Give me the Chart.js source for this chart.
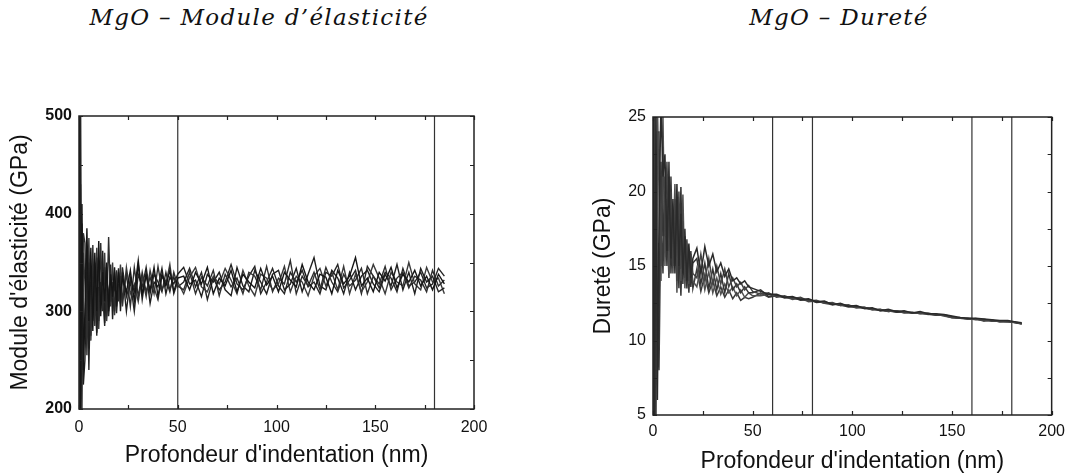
<!DOCTYPE html>
<html lang="fr">
<head>
<meta charset="utf-8">
<title>MgO – nanoindentation</title>
<script src="https://cdn.jsdelivr.net/npm/chart.js@4.4.1/dist/chart.umd.min.js"></script>
<style>
  html, body { margin: 0; padding: 0; background: #fff; }
  body { width: 1072px; height: 475px; position: relative; overflow: hidden; }
  .titre {
    position: absolute; top: 5px; line-height: 24px;
    font-family: 'DejaVu Serif', serif; font-style: italic; font-size: 23px;
    letter-spacing: 1.3px;
    color: #111; white-space: nowrap; transform: translateX(-50%);
  }
  .bloc { position: absolute; top: 60px; height: 415px; }
</style>
</head>
<body>
<div class="titre" style="left:259px">MgO – Module d’élasticité</div>
<div class="titre" style="left:839px">MgO – Dureté</div>
<div class="bloc" style="left:0;width:536px"><canvas id="chartModule"></canvas></div>
<div class="bloc" style="left:580px;width:492px"><canvas id="chartDurete"></canvas></div>

<script>
// Module d'élasticité : profondeur (nm) et 5 essais (GPa)
const profondeurE = [0.2, 0.8, 1.5, 2.2,
  3, 4, 5, 6, 7, 8, 9, 10, 11, 12, 13, 14, 15, 16, 17, 18, 19, 20, 21, 22,
  24, 26, 28, 30, 32, 34, 36, 38, 40, 42, 44, 46, 48, 50,
  53, 56, 59, 62, 65, 68, 71, 74, 77, 80, 83, 86, 89, 92, 95, 98, 101, 104, 107, 110,
  113, 116, 119, 122, 125, 128, 131, 134, 137, 140, 143, 146, 149, 152, 155, 158, 161,
  164, 167, 170, 173, 176, 179, 182, 185];

const moduleE1 = [560, 180, 410, 240,
  300, 385, 290, 365, 280, 360, 300, 372, 295, 340, 310, 350, 300, 338, 315, 345, 305, 340, 318, 335,
  320, 342, 310, 348, 318, 336, 322, 345, 315, 338, 326, 342, 320, 334,
  336, 322, 340, 328, 345, 318, 334, 326, 342, 320, 338, 330, 324, 344, 327, 336, 320, 340, 332, 325,
  348, 330, 322, 338, 335, 318, 342, 328, 336, 355, 326, 334, 320, 340, 331, 345, 324, 338, 330, 342,
  326, 336, 322, 338, 328];
const moduleE2 = [150, 520, 200, 380,
  370, 255, 350, 275, 368, 285, 355, 290, 370, 300, 345, 295, 376, 310, 330, 300, 342, 310, 336, 312,
  338, 305, 345, 315, 340, 320, 335, 318, 346, 322, 332, 320, 340, 326,
  322, 340, 318, 335, 326, 342, 316, 338, 325, 334, 318, 340, 336, 322, 346, 320, 334, 328, 352, 318,
  336, 326, 340, 322, 345, 330, 320, 338, 326, 332, 344, 318, 336, 328, 346, 322, 334, 340, 324, 336,
  332, 320, 342, 326, 332];
const moduleE3 = [540, 190, 330, 225,
  250, 340, 262, 330, 290, 350, 278, 325, 300, 362, 288, 335, 305, 348, 292, 330, 312, 344, 300, 340,
  300, 335, 320, 352, 312, 340, 308, 330, 325, 344, 318, 335, 328, 338,
  345, 328, 332, 315, 338, 330, 340, 322, 316, 345, 326, 320, 342, 330, 318, 338, 342, 322, 328, 344,
  320, 338, 355, 326, 322, 342, 334, 318, 340, 322, 336, 342, 328, 320, 338, 326, 348, 322, 340, 318,
  344, 330, 336, 320, 324];
const moduleE4 = [170, 430, 250, 360,
  330, 280, 375, 270, 340, 295, 365, 282, 330, 305, 360, 290, 320, 305, 350, 296, 330, 318, 348, 305,
  345, 318, 328, 310, 335, 315, 342, 324, 312, 336, 328, 348, 318, 330,
  318, 335, 345, 325, 320, 336, 328, 344, 332, 318, 342, 326, 316, 338, 334, 322, 328, 346, 320, 336,
  330, 316, 336, 344, 326, 340, 322, 346, 318, 338, 320, 330, 348, 334, 318, 340, 330, 326, 350, 328,
  322, 345, 330, 334, 318];
const moduleE5 = [480, 210, 390, 260,
  285, 360, 240, 345, 300, 330, 275, 350, 310, 320, 285, 345, 295, 325, 310, 340, 298, 328, 308, 345,
  315, 330, 300, 338, 325, 345, 318, 338, 330, 320, 340, 322, 335, 325,
  330, 344, 325, 340, 312, 334, 322, 330, 348, 328, 322, 336, 346, 318, 330, 344, 326, 318, 340, 330,
  342, 325, 330, 318, 340, 336, 348, 324, 332, 342, 318, 346, 336, 324, 340, 334, 320, 344, 326, 330,
  340, 324, 328, 344, 336];
const reperesE = [50, 180];

// Dureté : profondeur (nm) et 5 essais (GPa)
const profondeurH = [0.2, 0.8, 1.5, 2.2,
  3, 4, 5, 6, 7, 8, 9, 10, 11, 12, 13, 14, 15, 16, 17, 18, 19, 20,
  22, 24, 26, 28, 30, 32, 34, 36, 38, 40, 42, 44, 46, 48, 50,
  54, 58, 62, 66, 70, 74, 78, 82, 86, 90, 94, 98, 102, 106, 110, 114, 118, 122, 126, 130,
  134, 138, 142, 146, 150, 154, 158, 162, 166, 170, 174, 178, 182, 185];

const dureteH1 = [30, 3, 26, 6,
  18, 26, 21, 22.5, 16, 21, 15.5, 19.5, 14.5, 20.5, 15, 18.5, 14.5, 17, 14, 16.5, 14.2, 15.5,
  16.2, 14.5, 16.3, 15, 15.8, 14.6, 15.2, 14.3, 14.8, 14, 14.2, 13.8, 14, 13.6, 13.5,
  13.3, 13.1, 13.1, 12.9, 12.95, 12.75, 12.8, 12.6, 12.65, 12.4, 12.5, 12.3, 12.35, 12.15, 12.2, 12.0,
  12.1, 11.95, 12.0, 11.85, 11.95, 11.8, 11.8, 11.75, 11.65, 11.55, 11.5, 11.5, 11.45, 11.4, 11.35,
  11.35, 11.25, 11.2];
const dureteH2 = [2, 28, 4, 24,
  24, 15, 23, 17, 22, 16, 20, 14.5, 19.5, 14, 20, 14.8, 18, 14.2, 16.8, 14, 15.8, 14.5,
  14.2, 15.8, 14, 15.5, 13.8, 15, 13.8, 14.8, 13.6, 14.2, 13.6, 13.9, 13.4, 13.7, 13.3,
  13.1, 13.2, 12.9, 13.0, 12.8, 12.9, 12.65, 12.7, 12.5, 12.55, 12.35, 12.4, 12.2, 12.25, 12.05, 12.1,
  11.95, 12.0, 11.85, 11.9, 11.8, 11.85, 11.72, 11.68, 11.55, 11.5, 11.45, 11.42, 11.38, 11.3, 11.3,
  11.25, 11.2, 11.1];
const dureteH3 = [27, 2, 22, 8,
  12, 22, 17, 20, 15, 22, 14.5, 18, 15, 19, 13.5, 20.3, 13.8, 17.5, 13.5, 16, 13.6, 15.2,
  15.5, 13.8, 15.2, 13.5, 14.8, 13.4, 14.5, 13.2, 14.5, 13.4, 13.8, 13.2, 13.6, 13.2, 13.2,
  13.4, 12.95, 13.05, 12.85, 12.9, 12.7, 12.75, 12.55, 12.6, 12.45, 12.4, 12.25, 12.3, 12.2, 12.1, 12.05,
  12.0, 11.9, 11.92, 11.88, 11.82, 11.78, 11.7, 11.72, 11.6, 11.5, 11.48, 11.4, 11.42, 11.32, 11.28,
  11.3, 11.18, 11.12];
const dureteH4 = [4, 30, 7, 26,
  20, 14, 25, 15, 19.5, 14.5, 18.5, 16, 20.5, 13.2, 18.5, 14, 19.8, 13.5, 16.5, 13.8, 15, 14,
  13.6, 15, 13.4, 14.6, 13.2, 14.2, 13.1, 13.8, 13.2, 13.6, 13, 13.4, 12.9, 13.2, 13.0,
  13.0, 13.1, 12.95, 12.95, 12.75, 12.85, 12.6, 12.65, 12.5, 12.4, 12.45, 12.3, 12.2, 12.2, 12.15, 12.0,
  11.98, 11.95, 11.88, 11.85, 11.88, 11.75, 11.76, 11.65, 11.52, 11.55, 11.42, 11.48, 11.3, 11.38, 11.25,
  11.28, 11.25, 11.15];
const dureteH5 = [29, 3, 20, 10,
  8, 19, 14.5, 21, 18, 14.2, 21, 15, 17.5, 16, 17, 13, 17.5, 15, 15.5, 13.2, 16, 13.5,
  14.8, 13.3, 14.4, 13.2, 14, 13, 13.6, 12.9, 13.4, 12.8, 13.2, 12.7, 12.9, 12.8, 12.9,
  13.2, 12.9, 13.0, 12.9, 12.85, 12.75, 12.7, 12.6, 12.55, 12.5, 12.35, 12.35, 12.28, 12.15, 12.1, 12.08,
  11.95, 12.0, 11.9, 11.86, 11.85, 11.8, 11.72, 11.7, 11.55, 11.5, 11.5, 11.45, 11.35, 11.35, 11.3,
  11.25, 11.22, 11.12];
const reperesH = [60, 80, 160, 180];

const policeSans = "'Liberation Sans', Arial, sans-serif";

// Cadre autour de la zone de tracé + graduations vers l'intérieur
const cadreGraduations = {
  id: 'cadreGraduations',
  afterDatasetsDraw(chart) {
    const { ctx, chartArea: a, scales } = chart;
    ctx.save();
    ctx.strokeStyle = '#222';
    ctx.lineWidth = 1.5;
    ctx.strokeRect(a.left, a.top, a.right - a.left, a.bottom - a.top);
    ctx.lineWidth = 1.2;
    ctx.beginPath();
    scales.x.ticks.forEach(t => {
      const px = Math.round(scales.x.getPixelForValue(t.value)) + 0.5;
      ctx.moveTo(px, a.bottom); ctx.lineTo(px, a.bottom - 4);
      ctx.moveTo(px, a.top); ctx.lineTo(px, a.top + 4);
    });
    scales.y.ticks.forEach(t => {
      const py = Math.round(scales.y.getPixelForValue(t.value)) + 0.5;
      ctx.moveTo(a.left, py); ctx.lineTo(a.left + 4, py);
      ctx.moveTo(a.right, py); ctx.lineTo(a.right - 4, py);
    });
    ctx.stroke();
    ctx.restore();
  }
};

function points(profondeur, valeurs) {
  return profondeur.map((d, i) => ({ x: d, y: valeurs[i] }));
}

function creerGraphique(id, cfg) {
  const datasets = cfg.series.map((valeurs, i) => ({
    data: points(cfg.profondeur, valeurs),
    borderColor: cfg.couleurs[i % cfg.couleurs.length],
    borderWidth: cfg.epaisseur,
    pointRadius: 0,
    showLine: true,
    tension: 0
  }));

  // traits verticaux de repère
  cfg.reperes.forEach(x => {
    datasets.push({
      data: [{ x: x, y: cfg.yMin }, { x: x, y: cfg.yMax }],
      borderColor: '#333',
      borderWidth: 1.2,
      pointRadius: 0,
      showLine: true
    });
  });

  new Chart(document.getElementById(id), {
    type: 'scatter',
    data: { datasets },
    plugins: [cadreGraduations],
    options: {
      responsive: true,
      maintainAspectRatio: false,
      animation: false,
      events: [],
      layout: { padding: cfg.padding },
      plugins: { legend: { display: false }, tooltip: { enabled: false } },
      scales: {
        x: {
          type: 'linear',
          min: 0,
          max: 200,
          grid: { display: false, drawTicks: false },
          border: { display: false },
          afterFit: s => { s.height = cfg.hauteurX; },
          ticks: {
            stepSize: 25,
            autoSkip: false,
            maxRotation: 0,
            padding: cfg.padX,
            color: '#111',
            font: { family: policeSans, size: 16 },
            callback: v => (v % 50 === 0 ? v : '')
          },
          title: {
            display: true,
            text: "Profondeur d'indentation (nm)",
            color: '#111',
            font: { family: policeSans, size: 23 },
            padding: cfg.padTitreX
          }
        },
        y: {
          type: 'linear',
          min: cfg.yMin,
          max: cfg.yMax,
          grid: { display: false, drawTicks: false },
          border: { display: false },
          afterFit: s => { s.width = cfg.largeurY; },
          ticks: {
            stepSize: cfg.yPas,
            autoSkip: false,
            padding: 7,
            color: '#111',
            font: { family: policeSans, size: 16, weight: cfg.graisseY },
            callback: v => (v % cfg.yEtiquette === 0 ? v : '')
          },
          title: {
            display: true,
            text: cfg.titreY,
            color: '#111',
            font: { family: policeSans, size: 23 },
            padding: cfg.padTitreY
          }
        }
      }
    }
  });
}

creerGraphique('chartModule', {
  profondeur: profondeurE,
  series: [moduleE1, moduleE2, moduleE3, moduleE4, moduleE5],
  couleurs: ['#151515', '#2e2e2e', '#1f1f1f', '#3a3a3a', '#262626'],
  epaisseur: 1.4,
  reperes: reperesE,
  yMin: 200, yMax: 500, yPas: 50, yEtiquette: 100,
  titreY: "Module d'élasticité (GPa)",
  graisseY: 'bold',
  padding: { top: 56, right: 62, left: 0, bottom: 0 },
  largeurY: 79, hauteurX: 66, padX: 9,
  padTitreX: { top: 0, bottom: 6 },
  padTitreY: { top: 7, bottom: 0 }
});

creerGraphique('chartDurete', {
  profondeur: profondeurH,
  series: [dureteH1, dureteH2, dureteH3, dureteH4, dureteH5],
  couleurs: ['#2a2a2a', '#444', '#333', '#505050', '#3a3a3a'],
  epaisseur: 1.5,
  reperes: reperesH,
  yMin: 5, yMax: 25, yPas: 2.5, yEtiquette: 5,
  titreY: 'Dureté (GPa)',
  graisseY: 'normal',
  padding: { top: 57, right: 19, left: 0, bottom: 0 },
  largeurY: 73, hauteurX: 60, padX: 7,
  padTitreX: { top: 0, bottom: 0 },
  padTitreY: { top: 10, bottom: 0 }
});
</script>
</body>
</html>
